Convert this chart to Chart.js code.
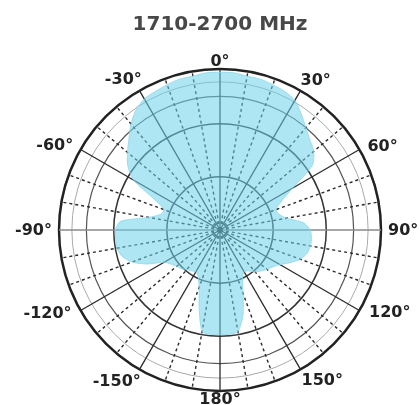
<!DOCTYPE html>
<html>
<head>
<meta charset="utf-8">
<script src="https://cdn.jsdelivr.net/npm/chart.js@4.4.1/dist/chart.umd.min.js"></script>
<style>
  html, body { margin: 0; padding: 0; background: #ffffff; }
  #wrap { width: 420px; height: 405px; }
</style>
</head>
<body>
<div id="wrap"><canvas id="c" width="420" height="405"></canvas></div>
<script>
// Azimuth angles (degrees, clockwise from top)
const angleDeg = [
  0, 5, 10, 15, 20, 25, 30, 35, 40, 45, 50, 55,
  60, 65, 70, 75, 80, 85, 90, 95, 100, 105, 110, 115,
  120, 125, 130, 135, 140, 145, 150, 155, 160, 165, 170, 175,
  180, 185, 190, 195, 200, 205, 210, 215, 220, 225, 230, 235,
  240, 245, 250, 255, 260, 265, 270, 275, 280, 285, 290, 295,
  300, 305, 310, 315, 320, 325, 330, 335, 340, 345, 350, 355
];
// Relative pattern radius
const pattern = [
  0.98, 0.98, 0.97, 0.97, 0.96, 0.95, 0.93, 0.88, 0.83, 0.79, 0.76, 0.70,
  0.52, 0.42, 0.37, 0.38, 0.42, 0.52, 0.56, 0.57, 0.57, 0.56, 0.53, 0.48,
  0.43, 0.40, 0.38, 0.36, 0.34, 0.31, 0.30, 0.33, 0.42, 0.55, 0.64, 0.65,
  0.65, 0.65, 0.64, 0.50, 0.38, 0.32, 0.30, 0.31, 0.32, 0.34, 0.35, 0.37,
  0.40, 0.50, 0.58, 0.63, 0.65, 0.65, 0.65, 0.62, 0.45, 0.38, 0.37, 0.45,
  0.62, 0.70, 0.75, 0.80, 0.86, 0.91, 0.94, 0.95, 0.96, 0.97, 0.97, 0.98
];
// Angle tick labels
const labeledAngles = [0, 30, 60, 90, 120, 150, 180, 210, 240, 270, 300, 330];
const labelTexts = ['0°', '30°', '60°', '90°', '120°', '150°', '180°', '-150°', '-120°', '-90°', '-60°', '-30°'];
// Ring levels
const ringLevels = [0, 0.33, 0.66, 0.83, 0.92, 1];
const titleText = '1710-2700 MHz';

// Angle labels placed through the radial scale
const angleLabelPlugin = {
  id: 'angleLabels',
  afterDraw(chart) {
    const s = chart.scales.r;
    const ctx = chart.ctx;
    const step = 360 / angleDeg.length;
    ctx.save();
    ctx.font = 'bold 16px "DejaVu Sans"';
    ctx.fillStyle = '#222';
    ctx.textAlign = 'center';
    ctx.textBaseline = 'middle';
    labeledAngles.forEach((a, i) => {
      const th = a * Math.PI / 180;
      const lower = Math.cos(th) < 0;
      const shiftDeg = (lower ? 5 : 3) * Math.sin(2 * th);
      const th2 = th + shiftDeg * Math.PI / 180;
      const sn = Math.abs(Math.sin(th2)), cs = Math.abs(Math.cos(th2));
      const w = ctx.measureText(labelTexts[i]).width;
      const d = s.drawingArea + 2 + 5 * sn * sn + sn * w / 2 + cs * 6;
      const p = s.getPointPosition((a + shiftDeg) / step, d);
      ctx.fillText(labelTexts[i], p.x, p.y + 1);
    });
    ctx.restore();
  }
};

new Chart(document.getElementById('c'), {
  type: 'radar',
  data: {
    labels: angleDeg,
    datasets: [{
      data: pattern,
      backgroundColor: 'rgba(110, 210, 235, 0.55)',
      borderColor: 'rgba(140, 215, 235, 0.8)',
      borderWidth: 1,
      pointRadius: 0,
      fill: true,
      tension: 0.25
    }]
  },
  options: {
    responsive: false,
    animation: false,
    layout: { padding: { left: 59, right: 39, top: 0, bottom: 14 } },
    plugins: {
      legend: { display: false },
      tooltip: { enabled: false },
      title: {
        display: true,
        text: titleText,
        color: '#484848',
        font: { family: 'DejaVu Sans', size: 20, weight: 'bold' },
        padding: { top: 13, bottom: 32 }
      }
    },
    scales: {
      r: {
        min: 0,
        max: 1,
        startAngle: 0,
        afterBuildTicks: (scale) => { scale.ticks = ringLevels.map(v => ({ value: v })); },
        ticks: { display: false },
        grid: {
          circular: true,
          color: (ctx) => {
            const v = ctx.tick ? ctx.tick.value : 0;
            if (v === 1) return '#222';
            if (v === 0.92) return '#aaa';
            if (v === 0.83) return '#555';
            return '#333';
          },
          lineWidth: (ctx) => {
            const v = ctx.tick ? ctx.tick.value : 0;
            if (v === 1) return 2.5;
            if (v === 0.92) return 1;
            if (v === 0.83) return 1.2;
            return 1.5;
          }
        },
        angleLines: {
          display: true,
          color: (ctx) => {
            const a = angleDeg[ctx.index];
            if (a % 10 !== 0) return 'rgba(0,0,0,0)';
            if (a === 90 || a === 270) return '#888';
            return '#2a2a2a';
          },
          lineWidth: (ctx) => {
            const a = angleDeg[ctx.index];
            if (a % 10 !== 0) return 0;
            return a % 30 === 0 ? 1.3 : 1.4;
          },
          borderDash: (ctx) => {
            const a = angleDeg[ctx.index];
            return a % 30 === 0 ? [] : [3, 3];
          }
        },
        pointLabels: { display: false }
      }
    }
  },
  plugins: [angleLabelPlugin]
});
</script>
</body>
</html>
